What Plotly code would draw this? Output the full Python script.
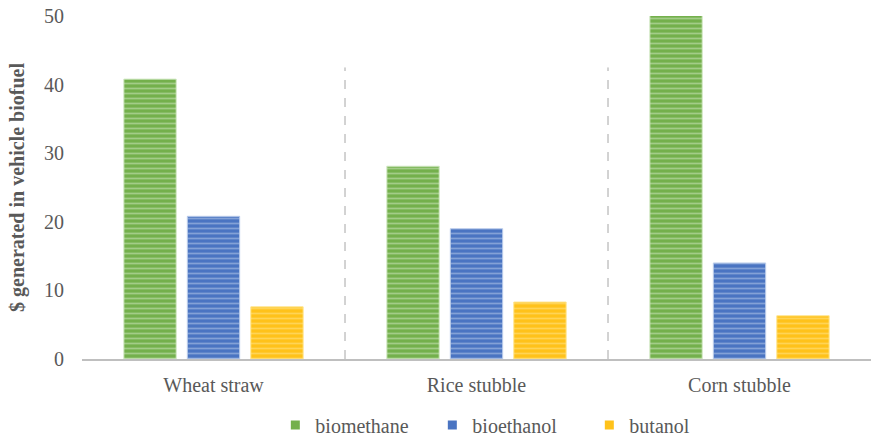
import plotly.graph_objects as go

# Feedstock categories and the value ($) generated per biofuel type
categories = ["Wheat straw", "Rice stubble", "Corn stubble"]
biomethane = [40.8, 28.1, 50.1]
bioethanol = [20.8, 19.0, 14.0]
butanol = [7.6, 8.3, 6.3]
y_ticks = [0, 10, 20, 30, 40, 50]

serif = "Liberation Serif, Times New Roman, serif"
text_gray = "#595959"

series = [
    ("biomethane", biomethane, "#74B04C", "#D2E8C4"),
    ("bioethanol", bioethanol, "#4A74C2", "#BCCDEB"),
    ("butanol", butanol, "#FFC21A", "#FFE58F"),
]

fig = go.Figure()
for name, vals, base, light in series:
    fig.add_trace(go.Bar(
        name=name,
        x=categories,
        y=vals,
        showlegend=False,
        marker=dict(
            color=base,
            line=dict(color=light, width=1),
            pattern=dict(shape="-", fgcolor=light, bgcolor=base,
                         size=5, solidity=0.35, fillmode="overlay"),
        ),
    ))
    # small square legend key for the series
    fig.add_trace(go.Scatter(
        name=name, x=[None], y=[None], mode="markers",
        marker=dict(symbol="square", size=9, color=base),
    ))

# dashed separators between the feedstock groups
for xb in [0.5, 1.5]:
    fig.add_shape(type="line", xref="x", yref="y", x0=xb, x1=xb, y0=0, y1=42.5,
                  line=dict(color="#A6A6A6", width=1, dash="dash"), layer="below")

fig.update_layout(
    width=871, height=438,
    margin=dict(l=82, r=0, t=16, b=79),
    paper_bgcolor="white", plot_bgcolor="white",
    barmode="group", bargap=0.276, bargroupgap=0.175,
    font=dict(family=serif, size=20, color=text_gray),
    showlegend=True,
    legend=dict(orientation="h", xref="paper", x=0.5435, xanchor="center",
                yref="container", y=0.0297, yanchor="middle",
                font=dict(family=serif, size=20, color=text_gray),
                entrywidth=112, itemwidth=30),
    xaxis=dict(showline=True, linecolor="#BFBFBF", linewidth=2, ticks="",
               showgrid=False, automargin=False,
               tickfont=dict(family=serif, size=20, color=text_gray),
               ticklabelstandoff=7),
    yaxis=dict(range=[0, 50], tickvals=y_ticks, showgrid=False, zeroline=False,
               showline=False, automargin=False,
               tickfont=dict(family=serif, size=20, color=text_gray),
               ticklabelstandoff=17,
               title=dict(text="<b>$ generated in vehicle biofuel</b>", standoff=14,
                          font=dict(family=serif, size=20, color=text_gray))),
)

fig.write_html("out.html")
